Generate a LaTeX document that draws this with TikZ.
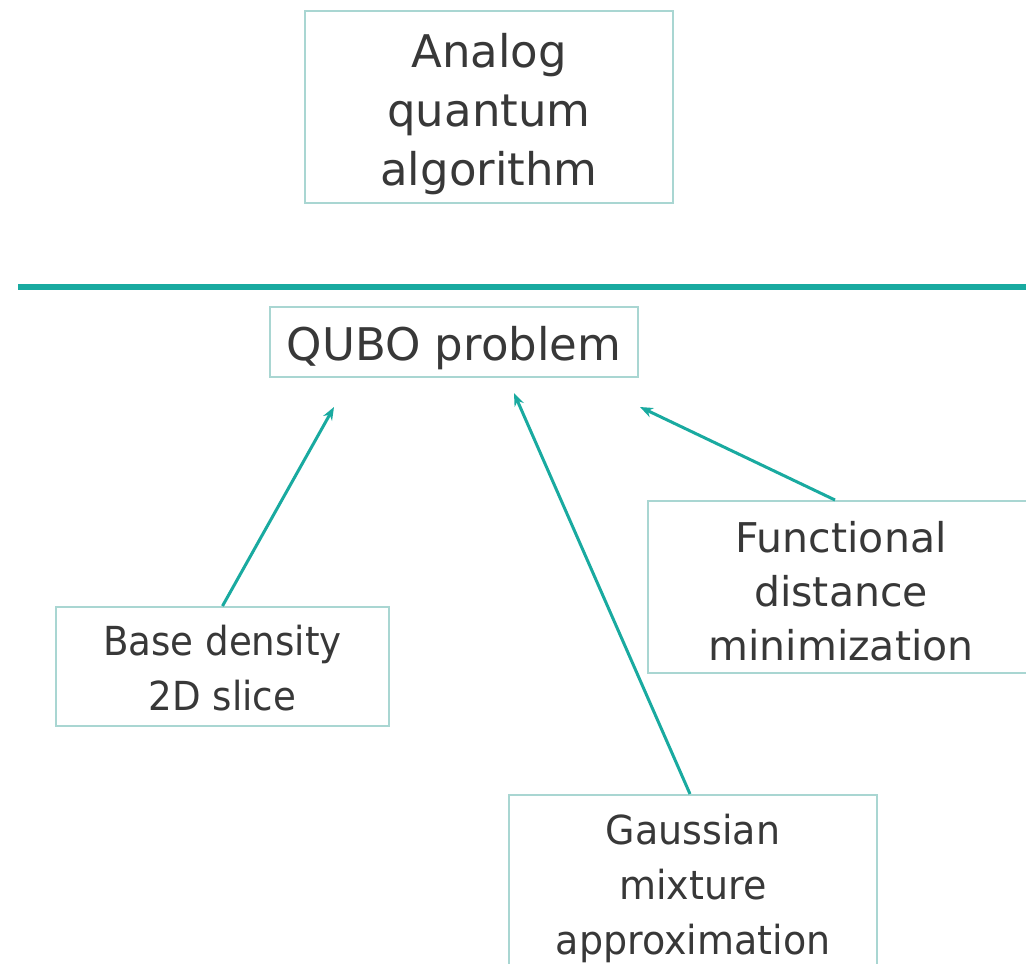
\documentclass[tikz,border=0pt]{standalone}
\usepackage{fontspec}
\setmainfont{DejaVu Sans}
\newfontfamily\condA[FakeStretch=0.93]{DejaVu Sans}
\newfontfamily\condB[FakeStretch=0.95]{DejaVu Sans}
\usetikzlibrary{arrows.meta}
\definecolor{tealline}{HTML}{19AAA0}
\definecolor{boxline}{HTML}{A9D6D2}
\definecolor{txt}{HTML}{383838}
\begin{document}
\begin{tikzpicture}[x=1pt,y=-1pt,
  box/.style={draw=boxline,line width=2pt,inner sep=0pt},
  lbl/.style={align=center,text=txt,inner sep=0pt},
  conn/.style={draw=tealline,line width=3pt,-{Stealth[length=13pt,width=10pt]}},
  sep/.style={draw=tealline,line width=5.5pt}]
\clip (0,0) rectangle (1026,964);
\fill[white] (0,0) rectangle (1026,964);

\node[box,minimum width=368pt,minimum height=192pt,
  label={[lbl,yshift=-7pt,font=\fontsize{45}{59}\selectfont]center:Analog\\quantum\\algorithm}] (analog) at (489,107) {};

\coordinate (sepL) at (18,287);
\coordinate (sepR) at (1030,287);
\draw[sep] (sepL) -- (sepR);

\node[box,minimum width=368pt,minimum height=70pt,
  label={[lbl,yshift=-6pt,font=\fontsize{45}{59}\selectfont]center:QUBO problem}] (qubo) at (454,342) {};

\node[box,minimum width=333pt,minimum height=119pt,
  label={[lbl,yshift=-2pt,font=\fontsize{40}{55}\condA]center:Base density\\2D slice}] (base) at (222.5,666.5) {};

\node[box,minimum width=386pt,minimum height=172pt,
  label={[lbl,yshift=-4pt,font=\fontsize{41}{54}\selectfont]center:Functional\\distance\\minimization}] (func) at (841,587) {};

\node[box,minimum width=368pt,minimum height=176pt,
  label={[lbl,yshift=-5pt,font=\fontsize{40}{55}\condB]center:Gaussian\\mixture\\approximation}] (gauss) at (693,883) {};

\coordinate (tipA) at (334,407);
\coordinate (tipB) at (514,393);
\coordinate (tipC) at (640,407);
\draw[conn] (base.north) -- (tipA);
\draw[conn] ([xshift=-3pt]gauss.north) -- (tipB);
\draw[conn] ([xshift=-6pt]func.north) -- (tipC);
\end{tikzpicture}
\end{document}
